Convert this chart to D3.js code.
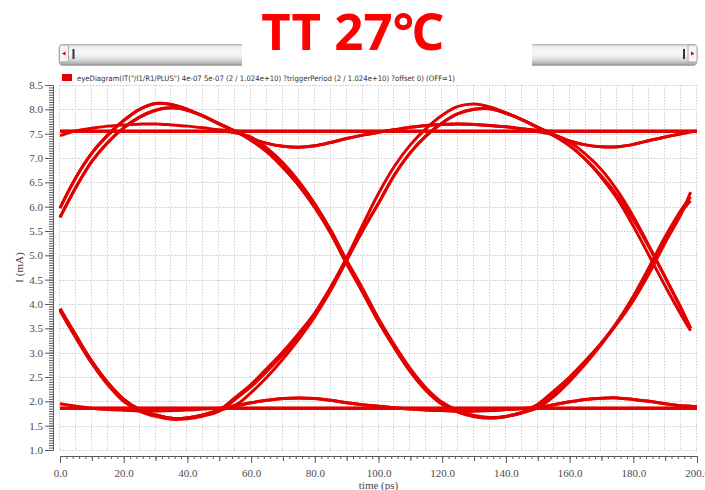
<!DOCTYPE html>
<html>
<head>
<meta charset="utf-8">
<script src="https://cdn.jsdelivr.net/npm/d3@7"></script>
<style>
  html, body { margin: 0; padding: 0; background: #fff; }
  svg { display: block; }
</style>
</head>
<body>
<svg id="chart" width="705" height="490"></svg>
<script>
// ---- sample times (ps) shared by every eye trace ----
const timePs = [0, 5, 10, 15, 20, 25, 30, 35, 40, 45, 50, 55, 60, 65, 70, 75, 80, 85, 90, 95,
  100, 105, 110, 115, 120, 125, 130, 135, 140, 145, 150, 155, 160, 165, 170, 175, 180, 185, 190, 195, 198, 200];

// ---- current (mA) for each overlaid bit-pattern trace; null = trace ended ----
const riseRingHold = [5.97, 6.6, 7.1, 7.47, 7.77, 8.0, 8.12, 8.1, 8.0, 7.86, 7.7, 7.55,
  7.4, 7.3, 7.24, 7.22, 7.25, 7.32, 7.4, 7.47,
  7.53, 7.58, 7.63, 7.67, 7.69, 7.7, 7.69, 7.67, 7.64, 7.6, 7.57,
  7.55, 7.55, 7.55, 7.55, 7.55, 7.55, 7.55, 7.55, 7.55, 7.55, 7.55];
const riseFallRise = [5.97, 6.6, 7.1, 7.47, 7.77, 8.0, 8.12, 8.1, 8.0, 7.86, 7.7, 7.55,
  7.36, 7.12, 6.8, 6.43, 5.98, 5.45, 4.82, 4.25,
  3.64, 3.1, 2.61, 2.22, 1.94, 1.78, 1.69, 1.655, 1.69, 1.77,
  1.94, 2.21, 2.5, 2.84, 3.2, 3.6, 4.07, 4.63, 5.26, 5.85, 6.3, null];
const riseFallHold = [5.78, 6.4, 6.93, 7.32, 7.62, 7.84, 7.98, 8.03, 7.98, 7.86, 7.7, 7.55,
  7.4, 7.17, 6.86, 6.5, 6.05, 5.52, 4.9, 4.32,
  3.7, 3.16, 2.67, 2.27, 1.98, 1.81, 1.71, 1.67, 1.69, 1.76,
  1.86, 1.93, 1.99, 2.04, 2.065, 2.07, 2.04, 2.0, 1.95, 1.91, 1.9, 1.89];
const riseRingFall = [5.78, 6.4, 6.93, 7.32, 7.62, 7.84, 7.98, 8.03, 7.98, 7.86, 7.7, 7.55,
  7.4, 7.3, 7.24, 7.22, 7.25, 7.32, 7.4, 7.47,
  7.53, 7.58, 7.63, 7.67, 7.69, 7.7, 7.69, 7.67, 7.64, 7.6,
  7.56, 7.48, 7.33, 7.08, 6.76, 6.33, 5.8, 5.19, 4.55, 3.9, 3.5, null];
const fallRingHold = [3.9, 3.35, 2.82, 2.38, 2.04, 1.83, 1.72, 1.65, 1.66, 1.72, 1.82,
  1.9, 1.97, 2.02, 2.06, 2.07, 2.06, 2.02, 1.97, 1.93,
  1.9, 1.87, 1.84, 1.82, 1.81, 1.8, 1.8, 1.81, 1.83, 1.85, 1.86,
  1.86, 1.86, 1.86, 1.86, 1.86, 1.86, 1.86, 1.86, 1.86, 1.86, 1.86];
const fallRiseHold = [3.9, 3.35, 2.82, 2.38, 2.04, 1.83, 1.72, 1.65, 1.66, 1.72, 1.82,
  2.08, 2.35, 2.68, 3.02, 3.4, 3.82, 4.35, 4.95, 5.62,
  6.27, 6.83, 7.27, 7.61, 7.88, 8.06, 8.11, 8.05, 7.93, 7.79, 7.63,
  7.48, 7.35, 7.27, 7.23, 7.23, 7.28, 7.36, 7.43, 7.5, 7.54, 7.55];
const fallRiseFall = [3.86, 3.3, 2.78, 2.34, 2.0, 1.8, 1.69, 1.63, 1.64, 1.7, 1.8,
  2.04, 2.3, 2.62, 2.96, 3.34, 3.77, 4.3, 4.9, 5.5,
  6.07, 6.65, 7.11, 7.46, 7.72, 7.91, 8.0, 8.01, 7.92, 7.79, 7.63,
  7.46, 7.25, 6.97, 6.63, 6.22, 5.73, 5.16, 4.55, 3.92, 3.5, null];
const fallRingRise = [3.9, 3.35, 2.82, 2.38, 2.04, 1.83, 1.72, 1.65, 1.66, 1.72, 1.82,
  1.9, 1.97, 2.02, 2.06, 2.07, 2.06, 2.02, 1.97, 1.93,
  1.9, 1.87, 1.84, 1.82, 1.81, 1.8, 1.8, 1.81, 1.83, 1.85,
  1.91, 2.15, 2.46, 2.81, 3.2, 3.64, 4.16, 4.76, 5.38, 5.93, 6.2, null];
const highSettling = [7.46, 7.56, 7.61, 7.655, 7.68, 7.695, 7.7, 7.68, 7.655, 7.62, 7.58, 7.555,
  7.55, 7.55, 7.55, 7.55, 7.55, 7.55, 7.55, 7.55, 7.55, 7.55, 7.55, 7.55, 7.55,
  7.55, 7.55, 7.55, 7.55, 7.55, 7.55, 7.55, 7.55, 7.55, 7.55, 7.55, 7.55, 7.55, 7.55, 7.55, 7.55, 7.55];
const highSteady = [7.55, 7.55, 7.55, 7.55, 7.55, 7.55, 7.55, 7.55, 7.55, 7.55, 7.55, 7.55, 7.55, 7.55,
  7.55, 7.55, 7.55, 7.55, 7.55, 7.55, 7.55, 7.55, 7.55, 7.55, 7.55, 7.55, 7.55, 7.55,
  7.55, 7.55, 7.55, 7.55, 7.55, 7.55, 7.55, 7.55, 7.55, 7.55, 7.55, 7.55, 7.55, 7.55];
const highFallHold = [7.55, 7.55, 7.55, 7.55, 7.55, 7.55, 7.55, 7.55, 7.55, 7.55, 7.55,
  7.52, 7.43, 7.2, 6.9, 6.52, 6.06, 5.5, 4.86, 4.24,
  3.64, 3.1, 2.61, 2.22, 1.94, 1.78, 1.69, 1.655, 1.69, 1.77,
  1.86, 1.93, 1.99, 2.04, 2.065, 2.07, 2.04, 2.0, 1.95, 1.91, 1.9, 1.89];
const lowSteady = [1.86, 1.86, 1.86, 1.86, 1.86, 1.86, 1.86, 1.86, 1.86, 1.86, 1.86, 1.86, 1.86, 1.86,
  1.86, 1.86, 1.86, 1.86, 1.86, 1.86, 1.86, 1.86, 1.86, 1.86, 1.86, 1.86, 1.86, 1.86,
  1.86, 1.86, 1.86, 1.86, 1.86, 1.86, 1.86, 1.86, 1.86, 1.86, 1.86, 1.86, 1.86, 1.86];
const lowRiseRing = [1.86, 1.86, 1.86, 1.86, 1.86, 1.86, 1.86, 1.86, 1.86, 1.86, 1.86,
  1.92, 2.18, 2.5, 2.87, 3.28, 3.74, 4.28, 4.9, 5.52,
  6.07, 6.65, 7.11, 7.46, 7.72, 7.91, 8.0, 8.01, 7.92, 7.79, 7.63,
  7.48, 7.35, 7.27, 7.23, 7.23, 7.28, 7.36, 7.43, 7.5, 7.54, 7.55];
const lowSettling = [1.95, 1.9, 1.86, 1.83, 1.815, 1.8, 1.8, 1.81, 1.82, 1.84, 1.86,
  1.86, 1.86, 1.86, 1.86, 1.86, 1.86, 1.86, 1.86, 1.86, 1.86, 1.86, 1.86, 1.86, 1.86, 1.86,
  1.86, 1.86, 1.86, 1.86, 1.86, 1.86, 1.86, 1.86, 1.86, 1.86, 1.86, 1.86, 1.86, 1.86, 1.86, 1.86];
const highLateFall = [7.55, 7.55, 7.55, 7.55, 7.55, 7.55, 7.55, 7.55, 7.55, 7.55, 7.55, 7.55, 7.55, 7.55, 7.55,
  7.55, 7.55, 7.55, 7.55, 7.55, 7.55, 7.55, 7.55, 7.55, 7.55, 7.55, 7.55, 7.55, 7.55, 7.55,
  7.54, 7.47, 7.26, 6.97, 6.6, 6.16, 5.6, 4.99, 4.37, 3.78, 3.45, null];
const lowLateRise = [1.86, 1.86, 1.86, 1.86, 1.86, 1.86, 1.86, 1.86, 1.86, 1.86, 1.86, 1.86, 1.86, 1.86, 1.86,
  1.86, 1.86, 1.86, 1.86, 1.86, 1.86, 1.86, 1.86, 1.86, 1.86, 1.86, 1.86, 1.86, 1.86, 1.86,
  1.88, 2.1, 2.41, 2.77, 3.17, 3.62, 4.14, 4.72, 5.33, 5.88, 6.12, null];

const eyeTraces = [highSteady, lowSteady, highSettling, lowSettling,
  riseRingHold, riseFallRise, riseFallHold, riseRingFall,
  fallRingHold, fallRiseHold, fallRiseFall, fallRingRise,
  highFallHold, lowRiseRing, highLateFall, lowLateRise];

// ---- axis ticks ----
const yTickValues = [1.0, 1.5, 2.0, 2.5, 3.0, 3.5, 4.0, 4.5, 5.0, 5.5, 6.0, 6.5, 7.0, 7.5, 8.0, 8.5];
const xTickValues = [0, 20, 40, 60, 80, 100, 120, 140, 160, 180, 200];
const xTickLabels = ["0.0", "20.0", "40.0", "60.0", "80.0", "100.0", "120.0", "140.0", "160.0", "180.0", "200.0"];

const titleText = "TT 27\u2103";
const legendText = 'eyeDiagram(IT("/I1/R1/PLUS") 4e-07 5e-07 (2 / 1.024e+10) ?triggerPeriod (2 / 1.024e+10) ?offset 0) (OFF=1)';
const xAxisTitle = "time (ps)";
const yAxisTitle = "I (mA)";

// ---- layout ----
const svg = d3.select("#chart");
const plot = { left: 60, right: 697, top: 85, bottom: 450 };
const x = d3.scaleLinear().domain([0, 200]).range([plot.left, plot.right]);
const y = d3.scaleLinear().domain([1.0, 8.5]).range([plot.bottom, plot.top]);
const traceRed = "#e20000";
const tickGrey = "#5a5a5a";

const defs = svg.append("defs");
defs.append("clipPath").attr("id", "plotClip")
  .append("rect").attr("x", plot.left - 2).attr("y", plot.top - 6)
  .attr("width", plot.right - plot.left + 4).attr("height", plot.bottom - plot.top + 8);

const barGrad = defs.append("linearGradient").attr("id", "barGrad")
  .attr("x1", 0).attr("y1", 0).attr("x2", 0).attr("y2", 1);
[[0, "#cfcfcf"], [0.15, "#f2f2f2"], [0.45, "#f6f6f6"], [0.7, "#dedede"], [0.9, "#b4b4b4"], [1, "#8e8e8e"]]
  .forEach(([o, c]) => barGrad.append("stop").attr("offset", o).attr("stop-color", c));

// ---- grid (dotted) ----
const grid = svg.append("g");
grid.selectAll("line.h").data(yTickValues).join("line")
  .attr("x1", plot.left).attr("x2", plot.right)
  .attr("y1", d => Math.round(y(d)) + 0.5).attr("y2", d => Math.round(y(d)) + 0.5)
  .attr("stroke", "#c9c9c9").attr("stroke-width", 1).attr("stroke-dasharray", "1.5,1.5");
grid.selectAll("line.v").data(d3.range(0, 201, 5)).join("line")
  .attr("y1", plot.top).attr("y2", plot.bottom)
  .attr("x1", d => Math.round(x(d)) - 0.5).attr("x2", d => Math.round(x(d)) - 0.5)
  .attr("stroke", "#d0d0d0").attr("stroke-width", 1).attr("stroke-dasharray", "1.5,1.5");

// ---- axes ----
function styleAxis(g) {
  g.select(".domain").attr("stroke", tickGrey);
  g.selectAll(".tick line").attr("stroke", tickGrey);
  g.selectAll(".tick text").attr("fill", "#4a4a4a")
    .style("font-family", "'Liberation Serif', 'DejaVu Serif', serif").style("font-size", "11px");
}
const yAxisX = 53;
svg.append("g").attr("transform", `translate(${yAxisX},0)`)
  .call(d3.axisLeft(y).tickValues(d3.range(1.0, 8.5001, 0.05)).tickSize(4).tickSizeOuter(0).tickFormat(""))
  .call(styleAxis);
svg.append("g").attr("transform", `translate(${yAxisX},0)`)
  .call(d3.axisLeft(y).tickValues(yTickValues).tickSize(8).tickSizeOuter(0).tickPadding(2).tickFormat(d3.format(".1f")))
  .call(styleAxis);

const xAxisY = 456;
svg.append("g").attr("transform", `translate(0,${xAxisY})`)
  .call(d3.axisBottom(x).tickValues(d3.range(0, 200.001, 2)).tickSize(3).tickSizeOuter(0).tickFormat(""))
  .call(styleAxis);
svg.append("g").attr("transform", `translate(0,${xAxisY})`)
  .call(d3.axisBottom(x).tickValues(d3.range(10, 200, 20)).tickSize(5).tickSizeOuter(0).tickFormat(""))
  .call(styleAxis);
svg.append("g").attr("transform", `translate(0,${xAxisY})`)
  .call(d3.axisBottom(x).tickValues(xTickValues).tickSize(7).tickSizeOuter(0).tickPadding(6)
    .tickFormat((d, i) => xTickLabels[i]))
  .call(styleAxis);

// axis titles
svg.append("text").attr("x", (plot.left + plot.right) / 2).attr("y", 489)
  .attr("text-anchor", "middle").attr("fill", "#444")
  .style("font-family", "'Liberation Serif', 'DejaVu Serif', serif").style("font-size", "11px")
  .text(xAxisTitle);
svg.append("text").attr("transform", `translate(23,${(plot.top + plot.bottom) / 2}) rotate(-90)`)
  .attr("text-anchor", "middle").attr("fill", "#444")
  .style("font-family", "'Liberation Serif', 'DejaVu Serif', serif").style("font-size", "11px")
  .text(yAxisTitle);

// ---- eye traces ----
const line = d3.line()
  .defined(d => d[1] !== null)
  .x(d => x(d[0])).y(d => y(d[1]))
  .curve(d3.curveCatmullRom.alpha(0.5));
svg.append("g").attr("clip-path", "url(#plotClip)")
  .selectAll("path").data(eyeTraces).join("path")
  .attr("d", vals => line(vals.map((v, i) => [timePs[i], v])))
  .attr("fill", "none").attr("stroke", traceRed).attr("stroke-width", 3)
  .attr("stroke-linejoin", "round").attr("stroke-linecap", "butt");

// ---- legend ----
svg.append("rect").attr("x", 62).attr("y", 74).attr("width", 10).attr("height", 7).attr("fill", traceRed);
svg.append("text").attr("x", 77).attr("y", 81).attr("fill", "#333")
  .attr("textLength", 378).attr("lengthAdjust", "spacingAndGlyphs")
  .style("font-family", "'DejaVu Sans', sans-serif").style("font-size", "7.5px")
  .text(legendText);

// ---- scroll bar across the top ----
const bar = svg.append("g");
bar.append("rect").attr("x", 59).attr("y", 44.5).attr("width", 638).attr("height", 21)
  .attr("rx", 4).attr("fill", "url(#barGrad)").attr("stroke", "#a8a8a8").attr("stroke-width", 0.8);
[[59.5, -1], [688, 1]].forEach(([bx, dir]) => {
  bar.append("rect").attr("x", bx).attr("y", 45).attr("width", 9).attr("height", 17)
    .attr("rx", 1.5).attr("fill", "#f4f4f4").attr("stroke", "#9a9a9a").attr("stroke-width", 0.8);
  const cx = bx + 4.5, cy = 53.5;
  bar.append("path")
    .attr("d", dir < 0 ? `M${cx - 2},${cy} L${cx + 1.5},${cy - 2} L${cx + 1.5},${cy + 2} Z`
                       : `M${cx + 2},${cy} L${cx - 1.5},${cy - 2} L${cx - 1.5},${cy + 2} Z`)
    .attr("fill", "#e00000");
  const hx = dir < 0 ? bx + 13 : bx - 5;
  bar.append("rect").attr("x", hx).attr("y", 49).attr("width", 2).attr("height", 10).attr("fill", "#333");
});

// ---- title ----
svg.append("rect").attr("x", 242).attr("y", 38).attr("width", 290).attr("height", 30).attr("fill", "#fff");
svg.append("text").attr("x", 352.5).attr("y", 50).attr("text-anchor", "middle")
  .attr("fill", "#ff0000")
  .style("font-family", "'Noto Sans', 'Open Sans', sans-serif").style("font-weight", "bold")
  .style("font-size", "51px")
  .text(titleText);
</script>
</body>
</html>
